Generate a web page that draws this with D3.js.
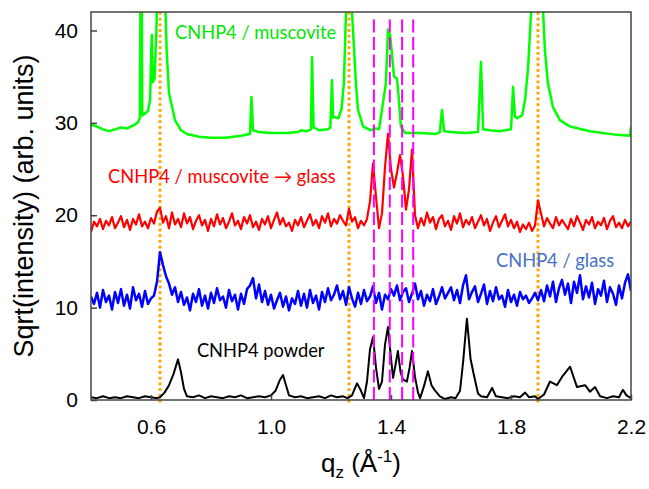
<!DOCTYPE html>
<html>
<head>
<meta charset="utf-8">
<script src="https://cdn.jsdelivr.net/npm/d3@7"></script>
<style>
  body { margin: 0; background: #fff; }
  svg { display: block; }
</style>
</head>
<body>
<svg id="chart"></svg>
<script>
// axis ticks
const xTicks = [0.6, 1.0, 1.4, 1.8, 2.2];
const yTicks = [0, 10, 20, 30, 40];

// reference lines (q in 1/Å)
const orderLines = [0.63, 1.26, 1.89];
const powderLines = [1.343, 1.396, 1.437, 1.474];

// red and blue scans sampled every 0.01 from 0.40 to 2.20
const gridStart = 0.40, gridStep = 0.01;

const glassFromMuscovite = [
  18.2, 19.3, 18.8, 19.6, 18.5, 19.4, 18.9, 19.8, 18.6, 19.2,
  19.9, 18.7, 19.5, 18.4, 19.6, 19.0, 20.1, 18.8, 19.3, 18.6,
  19.7, 19.1, 20.4, 20.8, 19.2, 19.9, 18.6, 20.3, 19.0, 19.6,
  18.7, 20.2, 19.1, 19.8, 18.5, 19.4, 20.0, 18.9, 19.5, 18.3,
  19.6, 18.8, 20.1, 19.0, 19.7, 18.6, 19.3, 20.2, 18.9, 19.4,
  18.5, 19.8, 19.1, 20.0, 18.7, 19.3, 18.4, 19.6, 19.0, 19.9,
  18.6, 19.5, 20.3, 19.0, 19.7, 18.8, 19.2, 18.3, 19.5, 18.9,
  19.8, 18.7, 19.4, 20.1, 18.9, 19.5, 18.6, 19.9, 19.2, 20.2,
  18.8, 19.6, 19.1, 20.0, 19.4, 18.9, 20.7, 19.3, 19.8, 18.6,
  19.4, 18.9, 19.6, 21.5, 25.6, 22.0, 18.6, 20.2, 25.2, 28.8,
  25.0, 23.0, 24.6, 26.5, 24.2, 20.6, 22.8, 27.1, 20.0, 18.6,
  19.7, 18.9, 20.3, 19.2, 19.8, 18.5, 19.6, 20.0, 18.8, 19.4,
  18.4, 19.9, 19.1, 20.2, 18.7, 19.5, 19.0, 19.8, 18.6, 19.3,
  20.0, 18.9, 19.6, 18.3, 19.2, 19.9, 18.7, 19.4, 20.1, 18.8,
  19.5, 18.6, 19.3, 18.2, 19.0, 18.5, 19.2, 18.3, 18.9, 21.6,
  20.2, 18.8, 19.7, 19.1, 18.6, 19.8, 18.9, 19.5, 19.0, 18.5,
  19.6, 18.8, 19.9, 19.2, 18.4, 19.5, 19.0, 19.8, 18.6, 19.3,
  18.9, 19.7, 18.5, 19.4, 19.9, 18.7, 19.2, 18.6, 19.5, 18.8,
  19.3
];

const glass = [
  11.2, 10.4, 11.6, 10.0, 11.9, 10.6, 11.3, 9.8, 11.7, 10.5,
  12.0, 10.2, 11.4, 9.9, 12.2, 10.8, 11.5, 10.1, 11.8, 10.4,
  11.0, 11.3, 12.8, 16.0, 14.6, 13.4, 12.6, 11.4, 12.2, 10.6,
  11.7, 10.3, 11.1, 9.7, 11.5, 10.6, 12.0, 10.2, 11.3, 9.9,
  11.6, 10.5, 12.1, 10.8, 11.2, 10.0, 11.9, 10.7, 11.4, 9.8,
  11.5, 10.4, 12.0, 12.4, 13.2, 11.0, 12.5, 10.6, 11.8, 10.3,
  11.4, 9.9, 10.8, 11.6, 10.1, 11.2, 9.7, 11.0, 10.4, 11.8,
  10.2, 11.5, 10.0, 11.9, 10.5, 11.3, 9.8, 11.7, 10.6, 12.1,
  10.8, 11.4, 12.4, 10.9, 11.8, 10.3, 12.2, 11.0, 10.1, 11.6,
  10.4, 11.9, 10.7, 11.2, 12.3, 10.5, 11.6, 9.8, 11.4, 10.9,
  12.0, 11.3, 12.4, 10.8, 11.7, 12.1, 10.6, 11.5, 12.6, 10.9,
  11.8, 10.2, 11.4, 10.7, 12.0, 10.4, 11.2, 12.2, 11.0, 11.6,
  12.2, 10.8, 11.9, 10.5, 12.4, 13.5, 10.9, 11.7, 12.3, 10.6,
  11.5, 12.5, 10.4, 11.8, 10.7, 12.2, 10.9, 11.3, 10.1, 11.9,
  10.6, 11.4, 10.2, 11.7, 10.9, 11.3, 10.5, 11.0, 11.6, 10.8,
  11.9, 10.7, 12.4, 11.2, 12.8, 10.6, 12.1, 13.0, 11.4, 12.6,
  10.5, 12.8, 11.6, 13.5, 10.9, 12.3, 11.1, 12.7, 10.4, 12.0,
  11.3, 12.9, 10.6, 12.2, 11.5, 10.3, 12.4, 11.0, 12.7, 13.6,
  11.8
];

// muscovite scan: [q, sqrt(I)] — peaks above 42 run off the top
const muscovite = [
  [0.40, 29.8], [0.42, 29.6], [0.44, 29.3], [0.46, 29.1], [0.48, 29.3], [0.50, 29.5],
  [0.52, 29.4], [0.54, 29.7], [0.555, 30.0], [0.563, 30.5], [0.567, 60], [0.571, 30.8],
  [0.58, 31.0], [0.59, 31.3], [0.597, 32.5], [0.601, 38], [0.603, 39.5], [0.606, 34.4],
  [0.612, 34.8], [0.618, 40], [0.622, 46], [0.63, 80], [0.645, 46], [0.652, 38],
  [0.66, 33.2], [0.68, 30.3], [0.70, 29.2], [0.72, 28.8], [0.76, 28.5], [0.80, 28.4],
  [0.85, 28.4], [0.90, 28.6], [0.93, 28.8], [0.935, 32.8], [0.94, 29.2], [0.96, 29.0],
  [1.00, 28.9], [1.05, 28.9], [1.09, 29.0], [1.10, 29.2], [1.12, 29.1], [1.133, 29.3],
  [1.137, 37.1], [1.142, 29.5], [1.16, 29.2], [1.19, 29.3], [1.198, 29.5], [1.203, 34.6],
  [1.207, 30.6], [1.213, 30.6], [1.225, 30.5], [1.235, 31.5], [1.243, 34.3], [1.25, 42],
  [1.26, 80], [1.27, 42], [1.277, 37.9], [1.283, 34.3], [1.29, 31.4], [1.307, 29.6],
  [1.333, 29.2], [1.35, 29.4], [1.36, 29.3], [1.37, 31.4], [1.383, 34.3], [1.39, 40.1],
  [1.397, 39.5], [1.403, 37.5], [1.41, 35.0], [1.42, 34.8], [1.425, 33.0], [1.433, 29.6],
  [1.447, 28.9], [1.50, 28.9], [1.55, 28.8], [1.563, 29.0], [1.57, 31.4], [1.577, 29.1],
  [1.60, 29.0], [1.65, 28.9], [1.69, 29.0], [1.70, 36.6], [1.707, 29.3], [1.73, 29.2],
  [1.76, 29.1], [1.80, 29.3], [1.807, 33.9], [1.813, 30.7], [1.82, 30.5], [1.837, 30.8],
  [1.847, 32.5], [1.857, 36.0], [1.867, 42], [1.89, 80], [1.907, 42], [1.913, 37.9],
  [1.923, 34.3], [1.94, 31.7], [1.963, 30.3], [1.997, 29.6], [2.063, 29.1], [2.153, 28.7],
  [2.197, 28.6], [2.20, 29.6]
];

// powder pattern: [q, sqrt(I)]
const powder = [
  [0.40, 0.3], [0.42, 0.2], [0.44, 0.4], [0.46, 0.2], [0.48, 0.3], [0.50, 0.2],
  [0.52, 0.4], [0.54, 0.3], [0.56, 0.2], [0.58, 0.4], [0.60, 0.3], [0.62, 0.2],
  [0.63, 0.3], [0.645, 0.8], [0.66, 1.6], [0.675, 2.8], [0.69, 4.4], [0.70, 3.0],
  [0.71, 1.2], [0.72, 0.4], [0.74, 0.3], [0.76, 0.5], [0.78, 0.2], [0.80, 0.4],
  [0.82, 0.3], [0.84, 0.2], [0.86, 0.4], [0.88, 0.3], [0.90, 0.5], [0.92, 0.2],
  [0.94, 0.3], [0.96, 0.4], [0.98, 0.3], [1.00, 0.5], [1.015, 1.0], [1.03, 2.2],
  [1.04, 2.7], [1.05, 1.6], [1.06, 0.5], [1.08, 0.3], [1.10, 0.4], [1.12, 0.2],
  [1.14, 0.3], [1.16, 0.4], [1.18, 0.2], [1.20, 0.5], [1.22, 0.3], [1.24, 0.4],
  [1.255, 0.2], [1.27, 0.5], [1.28, 1.3], [1.287, 1.8], [1.30, 1.0], [1.31, 0.2],
  [1.32, 2.0], [1.33, 5.5], [1.34, 6.8], [1.35, 3.5], [1.36, 1.2], [1.37, 2.0],
  [1.38, 6.0], [1.39, 7.9], [1.40, 4.5], [1.407, 2.4], [1.415, 3.8], [1.423, 5.3],
  [1.432, 3.0], [1.44, 2.2], [1.453, 2.0], [1.462, 3.5], [1.47, 5.3], [1.48, 2.5],
  [1.49, 0.8], [1.497, 0.2], [1.51, 1.5], [1.523, 3.1], [1.535, 1.6], [1.545, 1.1],
  [1.563, 0.4], [1.58, 0.1], [1.60, 0.3], [1.615, 0.2], [1.63, 1.0], [1.64, 4.0],
  [1.653, 8.8], [1.665, 4.5], [1.675, 2.9], [1.69, 0.7], [1.70, 0.4], [1.72, 0.3],
  [1.737, 1.3], [1.75, 0.4], [1.77, 0.3], [1.79, 0.2], [1.81, 0.4], [1.83, 0.3],
  [1.847, 0.8], [1.86, 0.3], [1.88, 0.4], [1.89, 0.1], [1.91, 0.6], [1.93, 2.0],
  [1.953, 1.6], [1.97, 2.5], [1.997, 3.6], [2.02, 1.4], [2.047, 1.6], [2.063, 0.9],
  [2.08, 1.4], [2.097, 0.4], [2.12, 0.2], [2.14, 0.4], [2.16, 0.3], [2.173, 1.1],
  [2.185, 0.5], [2.20, 0.2]
];

const width = 649, height = 489;
const margin = {top: 12, right: 18, bottom: 89, left: 91};

const svg = d3.select("#chart")
    .attr("width", width)
    .attr("height", height);

const x = d3.scaleLinear().domain([0.4, 2.2]).range([margin.left, width - margin.right]);
const y = d3.scaleLinear().domain([0, 42]).range([height - margin.bottom, margin.top]);

svg.append("defs").append("clipPath").attr("id", "plot")
    .append("rect")
    .attr("x", margin.left).attr("y", margin.top)
    .attr("width", width - margin.left - margin.right)
    .attr("height", height - margin.top - margin.bottom);

// orange dotted lines (muscovite orders)
svg.append("g")
    .selectAll("line")
    .data(orderLines)
    .join("line")
    .attr("x1", d => x(d)).attr("x2", d => x(d))
    .attr("y1", y(42)).attr("y2", y(0) + 3)
    .attr("stroke", "#ffa500")
    .attr("stroke-width", 3)
    .attr("stroke-dasharray", "2.8,2.9");

const gridLine = d3.line()
    .x((d, i) => x(gridStart + i * gridStep))
    .y(d => y(d));
const pairLine = d3.line()
    .x(d => x(d[0]))
    .y(d => y(d[1]));

const plot = svg.append("g").attr("clip-path", "url(#plot)")
    .attr("fill", "none")
    .attr("stroke-linejoin", "round");

plot.append("path").attr("d", pairLine(muscovite))
    .attr("stroke", "#00ff00").attr("stroke-width", 2.5);
plot.append("path").attr("d", gridLine(glassFromMuscovite))
    .attr("stroke", "#ff0000").attr("stroke-width", 2.2);
plot.append("path").attr("d", gridLine(glass))
    .attr("stroke", "#0000ff").attr("stroke-width", 2.5);
plot.append("path").attr("d", pairLine(powder))
    .attr("stroke", "#000").attr("stroke-width", 2);

// magenta dashed lines (powder peaks)
svg.append("g")
    .selectAll("line")
    .data(powderLines)
    .join("line")
    .attr("x1", d => x(d)).attr("x2", d => x(d))
    .attr("y1", y(41.2)).attr("y2", y(0))
    .attr("stroke", "#ff00ff")
    .attr("stroke-width", 2)
    .attr("stroke-dasharray", "13,4.5");

// axes
const xAxis = svg.append("g")
    .attr("transform", `translate(0,${y(0)})`)
    .call(d3.axisBottom(x).tickValues(xTicks).tickFormat(d3.format(".1f"))
        .tickSizeInner(-5).tickSizeOuter(0).tickPadding(19));
const yAxis = svg.append("g")
    .attr("transform", `translate(${margin.left},0)`)
    .call(d3.axisLeft(y).tickValues(yTicks)
        .tickSizeInner(-6).tickSizeOuter(0).tickPadding(13));

[xAxis, yAxis].forEach(g => {
    g.select(".domain").remove();
    g.selectAll(".tick line").attr("stroke", "#444").attr("stroke-width", 1.5);
    g.selectAll(".tick text")
        .attr("fill", "#000")
        .style("font-family", "'Liberation Sans', Arial, sans-serif")
        .style("font-size", "21px");
});

svg.append("rect")
    .attr("x", margin.left).attr("y", margin.top)
    .attr("width", width - margin.left - margin.right)
    .attr("height", height - margin.top - margin.bottom)
    .attr("fill", "none")
    .attr("stroke", "#444")
    .attr("stroke-width", 1.5);

// axis titles
svg.append("text")
    .attr("transform", `translate(33,206) rotate(-90)`)
    .attr("text-anchor", "middle")
    .style("font-family", "'Liberation Sans', Arial, sans-serif")
    .style("font-size", "27px")
    .text("Sqrt(intensity) (arb. units)");

const xt = svg.append("text")
    .attr("x", (margin.left + width - margin.right) / 2)
    .attr("y", 472)
    .attr("text-anchor", "middle")
    .style("font-family", "'Liberation Sans', Arial, sans-serif")
    .style("font-size", "26px");
xt.append("tspan").text("q");
xt.append("tspan").attr("dy", 6).style("font-size", "17px").text("z");
xt.append("tspan").attr("dy", -6).text(" (Å");
xt.append("tspan").attr("dy", -10).style("font-size", "17px").text("-1");
xt.append("tspan").attr("dy", 10).text(")");

// series labels
const labels = [
    {text: "CNHP4 / muscovite", q: 0.68, v: 39.1, color: "#00e600"},
    {text: "CNHP4 / muscovite \u2192 glass", q: 0.457, v: 23.5, color: "#ff0000"},
    {text: "CNHP4 / glass", q: 1.75, v: 14.4, color: "#4472c4"},
    {text: "CNHP4 powder", q: 0.753, v: 4.65, color: "#000"}
];
svg.append("g")
    .selectAll("text")
    .data(labels)
    .join("text")
    .attr("x", d => x(d.q))
    .attr("y", d => y(d.v))
    .attr("fill", d => d.color)
    .style("font-family", "Lato, 'Open Sans', sans-serif")
    .style("font-size", "18.3px")
    .text(d => d.text);
</script>
</body>
</html>
